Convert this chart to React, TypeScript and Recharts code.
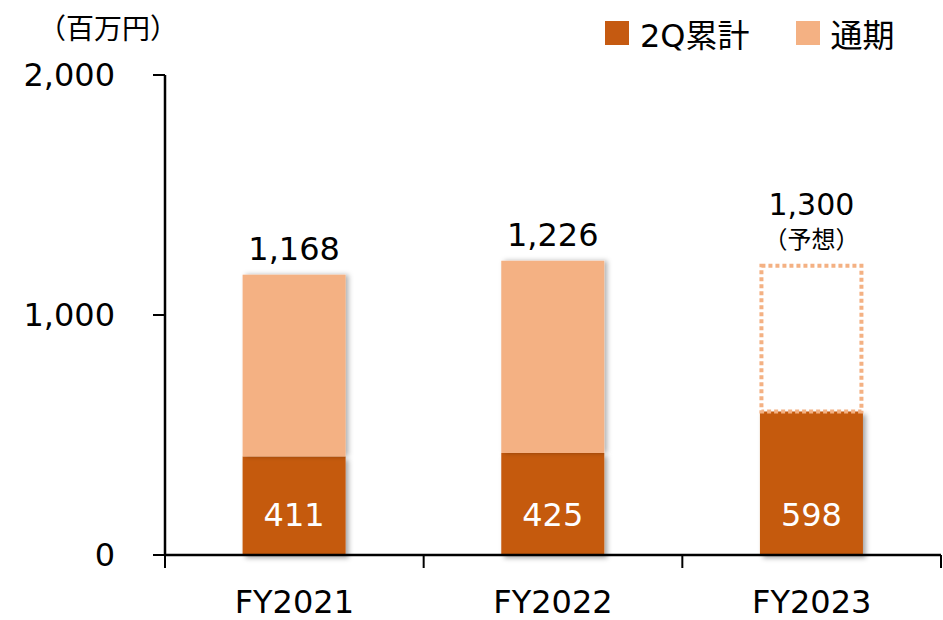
import React from "react";
import { BarChart, Bar, XAxis, YAxis, LabelList } from "recharts";

// ── Data ───────────────────────────────────────────────────────────

const categories = ["FY2021", "FY2022", "FY2023"];
const firstHalf = [411, 425, 598]; // 2Q累計
const fullYearRest = [757, 801, null]; // 通期 − 2Q累計
const forecastRest = [null, null, 607]; // dotted outline for the forecast year
const totalLabels = ["1,168", "1,226", "1,300"];
const forecastNotes = ["", "", "（予想）"];
const yTicks = [0, 1000, 2000];
const legendItems = ["2Q累計", "通期"];

const DARK = "#C55A11";
const LIGHT = "#F4B183";
const FONT = "'DejaVu Sans', 'Noto Sans CJK JP', sans-serif";

const chartData = categories.map((name, i) => ({
  name,
  half: firstHalf[i],
  rest: fullYearRest[i],
  forecast: forecastRest[i],
}));

// ── Shapes & labels ────────────────────────────────────────────────

function ShadowRect(props: any) {
  const { x, y, width, height, fill, filterId } = props;
  if (!height) return null;
  return (
    <rect x={x} y={y} width={width} height={height} fill={fill} filter={`url(#${filterId})`} />
  );
}

function DottedRect(props: any) {
  const { x, y, width, height } = props;
  if (!height) return null;
  return (
    <rect
      x={x + 1.5}
      y={y}
      width={width - 3}
      height={height}
      fill="none"
      stroke={LIGHT}
      strokeWidth={4}
      strokeDasharray="4 3"
    />
  );
}

function InnerLabel(props: any) {
  const { x, y, width, height, index } = props;
  return (
    <text
      x={x + width / 2}
      y={y + height - 40}
      textAnchor="middle"
      dominantBaseline="central"
      fill="#fff"
      fontSize={32}
      fontFamily={FONT}
    >
      {firstHalf[index]}
    </text>
  );
}

function TotalLabel(props: any) {
  const { x, y, width, index, value } = props;
  if (value == null) return null;
  const note = forecastNotes[index];
  const cx = x + width / 2;
  if (note) {
    return (
      <g fontFamily={FONT} textAnchor="middle">
        <text x={cx} y={y - 61} dominantBaseline="central" fontSize={30} fill="#000">
          {totalLabels[index]}
        </text>
        <text x={cx} y={y - 26} dominantBaseline="central" fontSize={24} fill="#000">
          {note}
        </text>
      </g>
    );
  }
  return (
    <text
      x={cx}
      y={y - 26}
      textAnchor="middle"
      dominantBaseline="central"
      fontSize={32}
      fill="#000"
      fontFamily={FONT}
    >
      {totalLabels[index]}
    </text>
  );
}

function XTick(props: any) {
  const { x, y, payload, index, width, visibleTicksCount } = props;
  const band = width / visibleTicksCount;
  const left = x - band / 2;
  const top = y - 8;
  return (
    <g>
      <line x1={left} y1={top} x2={left} y2={top + 13} stroke="#000" strokeWidth={2} />
      {index === visibleTicksCount - 1 && (
        <line x1={left + band} y1={top} x2={left + band} y2={top + 13} stroke="#000" strokeWidth={2} />
      )}
      <text
        x={x}
        y={top + 47}
        textAnchor="middle"
        dominantBaseline="central"
        fontSize={32}
        fill="#000"
        fontFamily={FONT}
      >
        {payload.value}
      </text>
    </g>
  );
}

function YTick(props: any) {
  const { x, y, payload } = props;
  return (
    <text
      x={x - 36}
      y={y}
      textAnchor="end"
      dominantBaseline="central"
      fontSize={32}
      fill="#000"
      fontFamily={FONT}
    >
      {payload.value.toLocaleString("en-US")}
    </text>
  );
}

// ── Component ──────────────────────────────────────────────────────

export default function App() {
  const colors = [DARK, LIGHT];
  return (
    <div style={{ position: "absolute", left: 0, top: 0, width: 943, height: 620, background: "#fff" }}>
      <div
        style={{
          position: "absolute",
          left: 38,
          top: 7,
          fontSize: 28,
          fontFamily: FONT,
          color: "#000",
        }}
      >
        （百万円）
      </div>
      <div
        style={{
          position: "absolute",
          left: 605,
          top: 10,
          display: "flex",
          gap: 46,
          fontFamily: FONT,
          fontSize: 32,
          color: "#000",
        }}
      >
        {legendItems.map((label, i) => (
          <div key={label} style={{ display: "flex", alignItems: "center", gap: 11 }}>
            <span style={{ width: 24, height: 24, background: colors[i], display: "inline-block" }} />
            <span>{label}</span>
          </div>
        ))}
      </div>
      <BarChart
        width={943}
        height={620}
        data={chartData}
        margin={{ top: 75, right: 2, bottom: 0, left: 0 }}
        barCategoryGap="30%"
      >
        <defs>
          <filter id="shadowDark" x="-10%" y="-10%" width="130%" height="130%">
            <feDropShadow dx={3} dy={3} stdDeviation={2.5} floodColor="#000" floodOpacity={0.35} />
          </filter>
          <filter id="shadowLight" x="-10%" y="-10%" width="130%" height="120%">
            <feDropShadow dx={3} dy={0} stdDeviation={2.5} floodColor="#000" floodOpacity={0.3} />
          </filter>
        </defs>
        <XAxis
          dataKey="name"
          height={65}
          axisLine={{ stroke: "#000", strokeWidth: 2.5 }}
          tickLine={false}
          tick={<XTick />}
          interval={0}
        />
        <YAxis
          width={165}
          domain={[0, 2000]}
          ticks={yTicks}
          axisLine={{ stroke: "#000", strokeWidth: 2.5 }}
          tickLine={{ stroke: "#000", strokeWidth: 2 }}
          tickSize={12}
          tick={<YTick />}
        />
        <Bar
          dataKey="half"
          stackId="a"
          fill={DARK}
          shape={<ShadowRect filterId="shadowDark" />}
          isAnimationActive={false}
        >
          <LabelList dataKey="half" content={<InnerLabel />} />
        </Bar>
        <Bar
          dataKey="rest"
          stackId="a"
          fill={LIGHT}
          shape={<ShadowRect filterId="shadowLight" />}
          isAnimationActive={false}
        >
          <LabelList dataKey="rest" content={<TotalLabel />} />
        </Bar>
        <Bar dataKey="forecast" stackId="a" shape={<DottedRect />} isAnimationActive={false}>
          <LabelList dataKey="forecast" content={<TotalLabel />} />
        </Bar>
      </BarChart>
    </div>
  );
}
